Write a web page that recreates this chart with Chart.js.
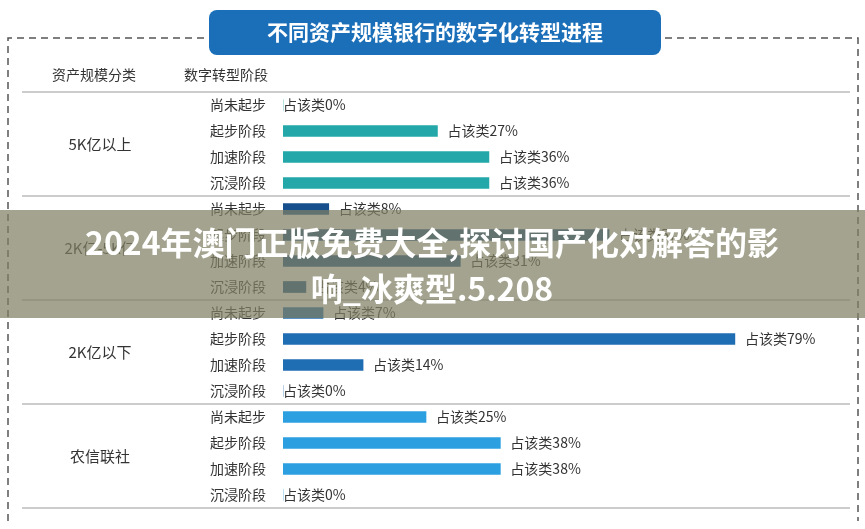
<!DOCTYPE html>
<html><head><meta charset="utf-8">
<script src="https://cdn.jsdelivr.net/npm/chart.js@4"></script>
<style>html,body{margin:0;padding:0;background:#fff}#w{width:865px;height:529px}</style>
</head><body><div id="w"><canvas id="c" width="865" height="529"></canvas></div>
<script>
const title = "不同资产规模银行的数字化转型进程";
const groups = ["5K亿以上","2K亿-5K亿","2K亿以下","农信联社"];
const stages = ["尚未起步","起步阶段","加速阶段","沉浸阶段"];
const shares = [0,27,36,36, 8,57,31,4, 7,79,14,0, 25,38,38,0];
const groupColors = ["#23a7a8","#174f8c","#1f6db3","#2b9fe0"];
const banner = ["2024年澳门正版免费大全,探讨国产化对解答的影","响_冰爽型.5.208"];

const labels = [];
groups.forEach(g => stages.forEach(s => labels.push(g+"|"+s)));
const colors = shares.map((v,i)=>groupColors[Math.floor(i/4)]);
const F = '"Noto Sans CJK SC","Noto Sans",sans-serif';

const deco = {
  id:'deco',
  beforeDraw(ch){
    const c = ch.ctx; c.save();
    c.strokeStyle='#555'; c.lineWidth=1.5; c.setLineDash([7,5]);
    c.beginPath(); c.moveTo(8,521); c.lineTo(8,38); c.lineTo(858,38); c.lineTo(858,521); c.stroke();
    c.setLineDash([]);
    c.fillStyle='#333'; c.font='14px '+F; c.textBaseline='middle';
    c.fillText("资产规模分类",52,75); c.fillText("数字转型阶段",184,75);
    c.strokeStyle='#ccc'; c.lineWidth=2;
    const y=ch.scales.y;
    const sep=[y.top];
    for(let g=1;g<4;g++) sep.push((y.getPixelForValue(g*4-1)+y.getPixelForValue(g*4))/2);
    sep.push(y.bottom);
    sep.forEach(s=>{c.beginPath();c.moveTo(22,s);c.lineTo(850,s);c.stroke();});
    c.fillStyle='#333';c.font='15px '+F;c.textAlign='center';
    groups.forEach((g,i)=>c.fillText(g,100,(sep[i]+sep[i+1])/2));
    c.textAlign='right';c.font='14px '+F;
    labels.forEach((l,i)=>c.fillText(l.split('|')[1],266,y.getPixelForValue(i)));
    c.restore();
  },
  afterDraw(ch){
    const c=ch.ctx; c.save();
    const x=ch.scales.x,y=ch.scales.y;
    c.fillStyle='#333';c.font='14px '+F;c.textBaseline='middle';
    shares.forEach((v,i)=>c.fillText("占该类"+v+"%",x.getPixelForValue(v)+(v?10:0),y.getPixelForValue(i)));
    c.fillStyle='#1a6fb8'; c.beginPath(); c.roundRect(209,10,452,45,8); c.fill();
    c.fillStyle='#fff'; c.font='bold 21px '+F; c.textAlign='center';
    c.fillText(title,435,32);
    c.fillStyle='rgba(128,128,100,0.72)'; c.fillRect(0,210,865,108);
    c.fillStyle='#fff'; c.font='bold 32px '+F;
    c.fillText(banner[0],432,243); c.fillText(banner[1],432,289);
    c.restore();
  }
};

new Chart(document.getElementById('c'),{
  type:'bar',
  data:{labels,datasets:[{data:shares,backgroundColor:colors,barThickness:11,borderWidth:0}]},
  options:{
    indexAxis:'y',responsive:false,animation:false,
    layout:{padding:{left:283,top:92,bottom:21,right:10}},
    plugins:{legend:{display:false},tooltip:{enabled:false}},
    scales:{x:{display:false,min:0,max:100},y:{display:false}}
  },
  plugins:[deco]
});
</script></body></html>
